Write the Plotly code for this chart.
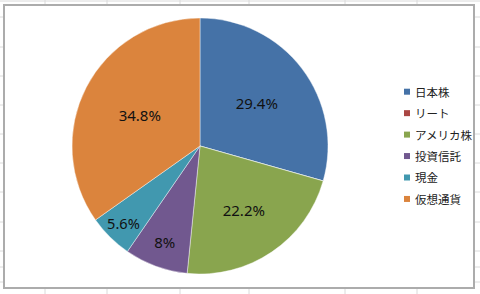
import plotly.graph_objects as go

# ---- data ----
categories = ["日本株", "リート", "アメリカ株", "投資信託", "現金", "仮想通貨"]
values = [29.4, 0, 22.2, 8, 5.6, 34.8]
label_texts = ["29.4%", "", "22.2%", "8%", "5.6%", "34.8%"]
colors = ["#4572A7", "#AA4643", "#89A54E", "#71588F", "#4198AF", "#DB843D"]

W, H = 480, 294

def px(x):
    return x / W

def py(y):
    return 1 - y / H

fig = go.Figure()

cx, cy, r = 200, 146, 128
fig.add_trace(go.Pie(
    labels=categories,
    values=values,
    text=label_texts,
    textinfo="text",
    textposition="inside",
    insidetextorientation="horizontal",
    sort=False,
    direction="clockwise",
    rotation=0,
    marker=dict(colors=colors, line=dict(color="rgba(255,255,255,0.6)", width=0.7)),
    textfont=dict(family="Noto Sans, Liberation Sans, sans-serif", size=15, color="#111111"),
    domain=dict(x=[px(cx - r), px(cx + r)], y=[py(cy + r), py(cy - r)]),
    showlegend=False,
    hoverinfo="label+percent",
))

shapes = []
# spreadsheet grid background
grid_x = [45, 107, 180, 249, 345, 417]
grid_y = [1, 17, 47, 76, 105, 134, 163, 192, 222, 251, 267, 282]
for gx in grid_x:
    shapes.append(dict(type="line", xref="paper", yref="paper", x0=px(gx), x1=px(gx), y0=0, y1=1,
                       line=dict(color="#dadada", width=1), layer="below"))
for gy in grid_y:
    shapes.append(dict(type="line", xref="paper", yref="paper", x0=0, x1=1, y0=py(gy), y1=py(gy),
                       line=dict(color="#dadada", width=1), layer="below"))
# chart area
shapes.append(dict(type="rect", xref="paper", yref="paper", x0=px(4), x1=px(474), y0=py(288), y1=py(5),
                   fillcolor="white", line=dict(color="#acacac", width=2), layer="below"))

# legend (manual, Excel-like small squares)
annotations = []
leg_x, leg_y0, leg_dy = 404, 91.7, 21.45
for i, (cat, col) in enumerate(zip(categories, colors)):
    yc = leg_y0 + i * leg_dy
    shapes.append(dict(type="rect", xref="paper", yref="paper", x0=px(leg_x), x1=px(leg_x + 6),
                       y0=py(yc + 3), y1=py(yc - 3), fillcolor=col, line=dict(width=0)))
    annotations.append(dict(text=cat, xref="paper", yref="paper", x=px(leg_x + 8.5), y=py(yc),
                            xanchor="left", yanchor="middle", showarrow=False,
                            font=dict(family="Noto Sans CJK JP", size=11.5, color="#222222")))

fig.update_layout(
    width=W, height=H,
    margin=dict(l=0, r=0, t=0, b=0),
    paper_bgcolor="white",
    plot_bgcolor="white",
    shapes=shapes,
    annotations=annotations,
)

fig.write_html("out.html")
